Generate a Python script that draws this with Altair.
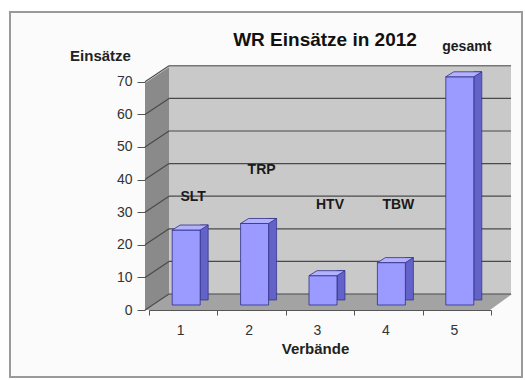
import altair as alt
import pandas as pd

# ---- data ----
title_text = "WR Einsätze in 2012"
categories = ["1", "2", "3", "4", "5"]
values = [23, 25, 9, 13, 70]
names = ["SLT", "TRP", "HTV", "TBW", "gesamt"]
label_heights = [33, 41.5, 30.7, 30.7, 79]
y_ticks = [0, 10, 20, 30, 40, 50, 60, 70]

bars = pd.DataFrame({"cat": categories, "value": values, "name": names, "lab": label_heights})
grid = pd.DataFrame({"v": y_ticks})
one = alt.Data(values=[{}])

FONT = "Liberation Sans"
W, H = 342, 238

yscale = alt.Scale(domain=[0, 73], nice=False, zero=True)
xscale = alt.Scale(type="band", paddingInner=0, paddingOuter=0)

yaxis = alt.Axis(title="Einsätze", values=y_ticks, tickCount=8, grid=False, domain=False, zindex=1,
                 offset=4, tickSize=8, tickColor="#555", tickOffset=5, labelOverlap=False,
                 labelPadding=5, labelFont=FONT, labelFontSize=14, labelColor="#333",
                 titleFont=FONT, titleFontSize=15, titleFontWeight="bold",
                 titleColor="#222", titleAngle=0, titleAlign="center",
                 titleBaseline="middle", titleX=-45, titleY=-12)
xaxis = alt.Axis(title="Verbände", labelAngle=0, tickBand="extent", offset=5, zindex=1,
                 domainColor="#555", tickColor="#555", tickSize=5, grid=False,
                 labelFont=FONT, labelFontSize=14, labelColor="#333",
                 labelPadding=8, labelOffset=-3,
                 titleFont=FONT, titleFontSize=15, titleFontWeight="bold",
                 titleColor="#222", titleX=166, titleY=38, titleBaseline="middle")

# decorative frame, wall, floor
frame = alt.Chart(one).mark_rect(fill="#fbfbfb", stroke="#9a9a9a", strokeWidth=2).encode(
    x=alt.value(-139), x2=alt.value(373), y=alt.value(-55), y2=alt.value(310))
wall = alt.Chart(one).mark_rect(fill="#c9c9c9").encode(
    x=alt.value(20), x2=alt.value(362), y=alt.value(0), y2=alt.value(227))
left_wall = alt.Chart(one).mark_point(
    shape="M-4,16L20,0L20,227L-4,243Z", size=4, filled=True, color="#8a8a8a",
    opacity=1, strokeWidth=0).encode(x=alt.value(0), y=alt.value(0))
floor = alt.Chart(one).mark_point(
    shape="M-4,243L20,227L363,227L341,243Z", size=4, filled=True, color="#a3a3a3",
    opacity=1, strokeWidth=0).encode(x=alt.value(0), y=alt.value(0))
title = alt.Chart(one).mark_text(text=title_text, font=FONT, fontSize=19, fontWeight="bold",
                                 color="#111", align="center", baseline="middle").encode(
    x=alt.value(176), y=alt.value(-27))

gridlines = alt.Chart(grid).mark_rule(color="#4a4a4a", strokeWidth=1.2, yOffset=-11, y2Offset=-11).encode(
    x=alt.value(20), x2=alt.value(362),
    y=alt.Y("v:Q", scale=yscale, axis=yaxis), y2="v:Q")
diag = alt.Chart(grid).mark_rule(color="#4a4a4a", strokeWidth=1.2, yOffset=5, y2Offset=-11).encode(
    x=alt.value(-4), x2=alt.value(20),
    y=alt.Y("v:Q", scale=yscale, axis=yaxis), y2="v:Q")

side = alt.Chart(bars).mark_bar(width=8, xOffset=21, yOffset=-5, color="#6262c8",
                                 stroke="#2e2e88", strokeWidth=0.7).encode(
    x=alt.X("cat:N", scale=xscale, axis=xaxis),
    y=alt.Y("value:Q", scale=yscale, axis=yaxis))
front = alt.Chart(bars).mark_bar(width=28, xOffset=3, color="#9a9aff",
                                  stroke="#2e2e88", strokeWidth=0.8).encode(
    x=alt.X("cat:N", scale=xscale, axis=xaxis),
    y=alt.Y("value:Q", scale=yscale, axis=yaxis))
top = alt.Chart(bars).mark_point(
    shape="M-0.636,0L0.636,0L1,-0.227L-0.273,-0.227Z", size=1936, filled=True,
    fill="#b2b2ff", stroke="#2e2e88", strokeWidth=0.8, opacity=1, xOffset=3).encode(
    x=alt.X("cat:N", scale=xscale, axis=xaxis),
    y=alt.Y("value:Q", scale=yscale, axis=yaxis))
labels = alt.Chart(bars).mark_text(font=FONT, fontSize=14, fontWeight="bold", color="#1a1a1a",
                                   dx=10, baseline="middle").encode(
    x=alt.X("cat:N", scale=xscale, axis=xaxis),
    y=alt.Y("lab:Q", scale=yscale, axis=yaxis),
    text="name:N")

chart = alt.layer(frame, wall, left_wall, floor, gridlines, diag, side, front, top, labels, title).properties(
    width=W, height=H,
    autosize=alt.AutoSizeParams(type="none"),
    padding={"left": 149, "top": 67, "right": 34, "bottom": 75},
    background="white",
).configure_view(stroke=None)

chart.save("out.html", embed_options={"renderer": "svg", "actions": False})
